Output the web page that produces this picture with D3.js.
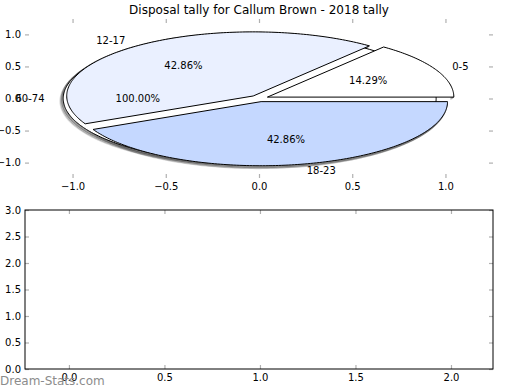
<!DOCTYPE html>
<html>
<head>
<meta charset="utf-8">
<script src="https://cdn.jsdelivr.net/npm/d3@7"></script>
<style>
  html, body { margin: 0; padding: 0; background: #fff; }
  svg { display: block; font-family: "DejaVu Sans", sans-serif; }
</style>
</head>
<body>
<svg id="chart" width="520" height="390"></svg>
<script>
// ---- data ----
const title = "Disposal tally for Callum Brown - 2018 tally";
const categoriesMain = ["0-5", "12-17", "18-23"];
const valuesMain = [1, 3, 3];
const colorsMain = ["#ffffff", "#eaf0ff", "#c5d8ff"];
const categoriesExtra = ["60-74"];
const valuesExtra = [1];
const colorsExtra = ["#ffffff"];
const explodeAmount = 0.05;
const pieXTicks = [-1.0, -0.5, 0.0, 0.5, 1.0];
const pieYTicks = [-1.0, -0.5, 0.0, 0.5, 1.0];
const lowerXTicks = [0.0, 0.5, 1.0, 1.5, 2.0];
const lowerYTicks = [0.0, 0.5, 1.0, 1.5, 2.0, 2.5, 3.0];
const watermark = "Dream-Stats.com";

const svg = d3.select("#chart");
const fmtTick = v => d3.format(".1f")(v).replace("-", "\u2212");

// ---- layout ----
const left = 25, right = 493;
const top1 = 19, bot1 = 178;
const top2 = 210, bot2 = 369;

// ---- top (pie) axes scales ----
const x1 = d3.scaleLinear().domain([-1.255, 1.255]).range([left, right]);
const y1 = d3.scaleLinear().domain([-1.24, 1.24]).range([bot1, top1]);

// ---- bottom axes scales ----
const x2 = d3.scaleLinear().domain([-0.23, 2.22]).range([left, right]);
const y2 = d3.scaleLinear().domain([0, 3]).range([bot2, top2]);

// title
svg.append("text").attr("x", (left + right) / 2).attr("y", 10)
  .attr("text-anchor", "middle").attr("dominant-baseline", "central")
  .attr("font-size", 12).text(title);

function drawTicks(g, xs, ys, xt, yt, t, b, showFrame) {
  const tickColor = "#b0b0b0";
  const ax = g.append("g").attr("transform", `translate(0,${b})`)
    .call(d3.axisBottom(xs).tickValues(xt).tickSize(-4).tickPadding(5).tickFormat(fmtTick));
  const axT = g.append("g").attr("transform", `translate(0,${t})`)
    .call(d3.axisTop(xs).tickValues(xt).tickSize(-4).tickFormat(""));
  const ay = g.append("g").attr("transform", `translate(${left},0)`)
    .call(d3.axisLeft(ys).tickValues(yt).tickSize(-4).tickPadding(4).tickFormat(fmtTick));
  const ayR = g.append("g").attr("transform", `translate(${right},0)`)
    .call(d3.axisRight(ys).tickValues(yt).tickSize(-4).tickFormat(""));
  [ax, axT, ay, ayR].forEach(a => {
    a.select(".domain").remove();
    a.selectAll(".tick line").attr("stroke", tickColor).attr("stroke-width", 1.2);
    a.selectAll(".tick text").attr("font-size", 10).attr("fill", "#000")
      .attr("font-family", "DejaVu Sans, sans-serif");
  });
  if (showFrame) {
    g.append("rect").attr("x", left).attr("y", t).attr("width", right - left).attr("height", b - t)
      .attr("fill", "none").attr("stroke", "#000").attr("stroke-width", 1);
  }
}

// ---- pie geometry ----
function wedges(cats, vals, cols) {
  const total = d3.sum(vals);
  const arcs = d3.pie().sort(null).startAngle(0).endAngle(2 * Math.PI)(vals);
  return arcs.map((a, i) => {
    const mid = (a.startAngle + a.endAngle) / 2;
    return {
      cat: cats[i], val: vals[i], color: cols[i],
      t1: a.startAngle, t2: a.endAngle, mid,
      cx: explodeAmount * Math.cos(mid), cy: explodeAmount * Math.sin(mid),
      pct: d3.format(".2f")(vals[i] / total * 100) + "%",
      full: Math.abs(a.endAngle - a.startAngle - 2 * Math.PI) < 1e-9
    };
  });
}
const extraW = wedges(categoriesExtra, valuesExtra, colorsExtra);
const mainW = wedges(categoriesMain, valuesMain, colorsMain);
const allW = extraW.concat(mainW);

const line = d3.line();
function arcPoints(w, dx, dy) {
  const n = Math.max(8, Math.ceil((w.t2 - w.t1) / (Math.PI / 180)));
  const pts = d3.range(n + 1).map(k => {
    const t = w.t1 + (w.t2 - w.t1) * k / n;
    return [x1(w.cx + Math.cos(t)) + dx, y1(w.cy + Math.sin(t)) + dy];
  });
  return pts;
}
function wedgePath(w) {
  const pts = arcPoints(w, 0, 0);
  if (w.full) return line(pts) + "Z";
  const c = [x1(w.cx), y1(w.cy)];
  return line([c].concat(pts)) + "Z";
}

const pieG = svg.append("g");
// shadows (outer arcs, drawn beneath all wedges)
const shadowG = pieG.append("g");
allW.forEach(w => {
  [[-1.0, 1.0, 0.55, 2.2], [-2.0, 2.0, 0.35, 2], [-3.0, 2.6, 0.2, 1.6]].forEach(([dx, dy, op, sw]) => {
    shadowG.append("path").attr("d", line(arcPoints(w, dx, dy)))
      .attr("fill", "none").attr("stroke", "#4d4d4d").attr("stroke-opacity", op).attr("stroke-width", sw);
  });
});
// wedges
allW.forEach(w => {
  pieG.append("path").attr("d", wedgePath(w))
    .attr("fill", w.color).attr("stroke", "#000").attr("stroke-width", 1)
    .attr("stroke-linejoin", "miter");
});

drawTicks(svg.append("g"), x1, y1, pieXTicks, pieYTicks, top1, bot1, false);

// pie labels
const labG = svg.append("g").attr("font-size", 10);
allW.forEach(w => {
  const lx = w.cx + 1.1 * Math.cos(w.mid), ly = w.cy + 1.1 * Math.sin(w.mid);
  labG.append("text").attr("x", x1(lx)).attr("y", y1(ly))
    .attr("text-anchor", lx > 0 ? "start" : "end").attr("dominant-baseline", "central")
    .text(w.cat);
  const px = w.cx + 0.6 * Math.cos(w.mid), py = w.cy + 0.6 * Math.sin(w.mid);
  labG.append("text").attr("x", x1(px)).attr("y", y1(py))
    .attr("text-anchor", "middle").attr("dominant-baseline", "central")
    .text(w.pct);
});

// ---- bottom empty axes ----
drawTicks(svg.append("g"), x2, y2, lowerXTicks, lowerYTicks, top2, bot2, true);

// watermark
svg.append("text").attr("x", 0).attr("y", 385).attr("font-size", 12)
  .attr("fill", "#8c8c8c").text(watermark);
</script>
</body>
</html>
